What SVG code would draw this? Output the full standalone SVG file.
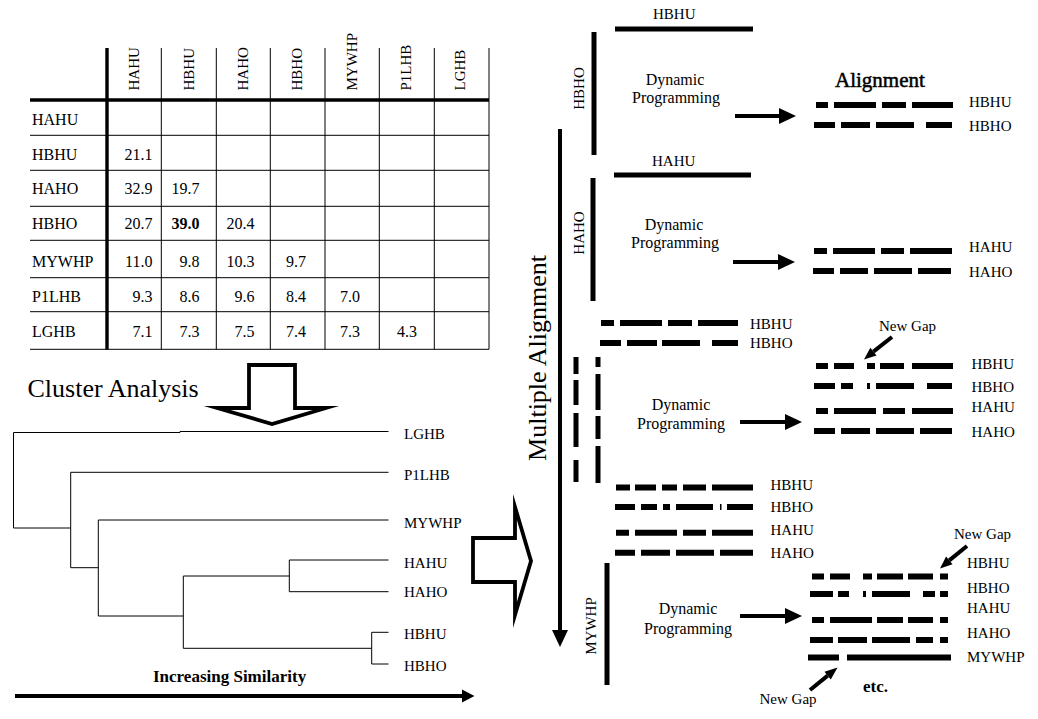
<svg xmlns="http://www.w3.org/2000/svg" width="1038" height="719" viewBox="0 0 1038 719">
<style>
text{font-family:"Liberation Serif","Times New Roman",serif;fill:#000}
.f15{font-size:15px}
.f16{font-size:16px}
.f14{font-size:15px}
.big{font-size:26px}
.b{font-weight:bold}
.mid{text-anchor:middle}
.end{text-anchor:end}
.thin{stroke:#000;stroke-width:1;fill:none}
.thick{stroke:#000;stroke-width:3.4;fill:none}
.bar{stroke:#000;stroke-width:6;fill:none}
.bar5{stroke:#000;stroke-width:5;fill:none}
.ln{stroke:#000;stroke-width:4;fill:none}
.hd{fill:#000;stroke:none}
.hollow{fill:#fff;stroke:#000;stroke-width:3.8;stroke-linejoin:miter;stroke-miterlimit:10}
</style>
<rect width="1038" height="719" fill="#fff"/>

<g id="table">
  <path class="thin" d="M161.3 48V349.3M216.3 48V349.3M270.3 48V349.3M325 48V349.3M379.3 48V349.3M434.3 48V349.3M489 48V349.3"/>
  <path class="thin" d="M30 135.3H489M30 170.3H489M30 206.3H489M30 240.3H489M30 277.7H489M30 311.7H489M30 349.3H489"/>
  <path class="thick" d="M107 48V349.5M30 100H489"/>
  <g class="f15">
    <text transform="translate(138.5,90.5) rotate(-90)">HAHU</text>
    <text transform="translate(193.5,90.5) rotate(-90)">HBHU</text>
    <text transform="translate(247.5,90.5) rotate(-90)">HAHO</text>
    <text transform="translate(302,90.5) rotate(-90)">HBHO</text>
    <text transform="translate(356.5,90.5) rotate(-90)">MYWHP</text>
    <text transform="translate(411,90.5) rotate(-90)">P1LHB</text>
    <text transform="translate(465,90.5) rotate(-90)">LGHB</text>
  </g>
  <g class="f16">
    <text x="32" y="125">HAHU</text>
    <text x="32" y="160">HBHU</text>
    <text x="32" y="194">HAHO</text>
    <text x="32" y="229">HBHO</text>
    <text x="32" y="267">MYWHP</text>
    <text x="32" y="302">P1LHB</text>
    <text x="32" y="337">LGHB</text>
  </g>
  <g class="f16 end">
    <text x="152.5" y="160">21.1</text>
    <text x="152.5" y="194">32.9</text>
    <text x="199.5" y="194">19.7</text>
    <text x="152.5" y="229">20.7</text>
    <text x="199.5" y="229" class="b">39.0</text>
    <text x="254.5" y="229">20.4</text>
    <text x="152.5" y="267">11.0</text>
    <text x="199.5" y="267">9.8</text>
    <text x="254.5" y="267">10.3</text>
    <text x="306" y="267">9.7</text>
    <text x="152.5" y="302">9.3</text>
    <text x="199.5" y="302">8.6</text>
    <text x="254.5" y="302">9.6</text>
    <text x="306" y="302">8.4</text>
    <text x="360" y="302">7.0</text>
    <text x="152.5" y="337">7.1</text>
    <text x="199.5" y="337">7.3</text>
    <text x="254.5" y="337">7.5</text>
    <text x="306" y="337">7.4</text>
    <text x="360" y="337">7.3</text>
    <text x="417" y="337">4.3</text>
  </g>
</g>

<g id="cluster-analysis">
  <text x="27.5" y="397" class="big">Cluster Analysis</text>
  <polygon class="hollow" points="249,365 295,365 295,408 326,408 272,424 217,408 249,408"/>
</g>

<g id="dendrogram">
  <path class="thin" d="M13.5 528V432.5H180V431.5H388.5"/>
  <path class="thin" d="M13.5 528H70.7M70.7 472.3V567.7M70.7 472.3H388.5M70.7 567.7H98.3M98.3 520V616M98.3 520H388.5M98.3 616H183.3M183.3 576V648.3M183.3 576H289.3M289.3 560V591.7M289.3 560H388.5M289.3 591.7H388.5M183.3 648.3H371.7M371.7 632.3V664M371.7 632.3H388.5M371.7 664H388.5"/>
  <g class="f15">
    <text x="404" y="438.5">LGHB</text>
    <text x="404" y="479.5">P1LHB</text>
    <text x="404" y="527.5">MYWHP</text>
    <text x="404" y="567.5">HAHU</text>
    <text x="404" y="597">HAHO</text>
    <text x="404" y="638.5">HBHU</text>
    <text x="404" y="671">HBHO</text>
  </g>
  <text x="153" y="682" class="b" font-size="17">Increasing Similarity</text>
  <path class="ln" d="M15 696H463"/>
  <polygon class="hd" points="462,689.5 474.5,696 462,702.5"/>
</g>

<g id="to-alignment-arrow">
  <polygon class="hollow" points="473,538 515,538 515,507 531,561 515,615 515,582 473,582"/>
</g>

<g id="multiple-alignment">
  <text class="big mid" transform="translate(546,358) rotate(-90)">Multiple Alignment</text>
  <path class="ln" d="M560 129V631"/>
  <polygon class="hd" points="552,630 568,630 560,647"/>
</g>

<g id="step1">
  <text x="653" y="19" class="f15">HBHU</text>
  <path class="bar5" d="M615 29H753"/>
  <path class="bar5" d="M594 32V155"/>
  <text class="f15 mid" transform="translate(584,88.5) rotate(-90)">HBHO</text>
  <text x="675" y="85" class="f16 mid">Dynamic</text>
  <text x="676" y="103" class="f16 mid">Programming</text>
  <path class="ln" d="M735 116H781"/>
  <polygon class="hd" points="779,108 796,116 779,124"/>
  <text x="835" y="87" font-size="21" stroke="#000" stroke-width="0.5">Alignment</text>
  <path class="bar" d="M816 105H828M834 105H876M882 105H906M912 105H953"/>
  <path class="bar" d="M814 125H835M841 125H870M876 125H914M926 125H952"/>
  <text x="969" y="107" class="f15">HBHU</text>
  <text x="969" y="131" class="f15">HBHO</text>
</g>

<g id="step2">
  <text x="652" y="166" class="f15">HAHU</text>
  <path class="bar5" d="M614 175H751"/>
  <path class="bar5" d="M593 178V301"/>
  <text class="f15 mid" transform="translate(583.5,233) rotate(-90)">HAHO</text>
  <text x="674" y="230" class="f16 mid">Dynamic</text>
  <text x="675" y="248" class="f16 mid">Programming</text>
  <path class="ln" d="M733 262H780"/>
  <polygon class="hd" points="778,254 795,262 778,270"/>
  <path class="bar" d="M814 251H827M833 251H875M881 251H904M910 251H952"/>
  <path class="bar" d="M813 271H834M840 271H868M874 271H912M918 271H951"/>
  <text x="969" y="252" class="f15">HAHU</text>
  <text x="969" y="277" class="f15">HAHO</text>
</g>

<g id="step3">
  <path class="bar" d="M601 323H614M620 323H662M668 323H692M698 323H738"/>
  <path class="bar" d="M600 343H621M627 343H657M662 343H700M712 343H738"/>
  <text x="750" y="328.5" class="f15">HBHU</text>
  <text x="750" y="347.5" class="f15">HBHO</text>
  <path class="bar5" d="M576 357V374M576 380V405M576 413V447M576 460V482"/>
  <path class="bar5" d="M598 357V367M598 374V410M598 416V439M598 446V483"/>
  <text x="681" y="410" class="f16 mid">Dynamic</text>
  <text x="681" y="429" class="f16 mid">Programming</text>
  <path class="ln" d="M740 422H787"/>
  <polygon class="hd" points="785,414 802,422 785,430"/>
  <text x="879" y="331" class="f14">New Gap</text>
  <path class="ln" d="M892 337L873.4 351.6"/>
  <polygon class="hd" points="870.3,347.7 864,359.5 876.5,355.5"/>
  <path class="bar" d="M816 366H828M834 366H854M867 366H875M880 366H904M912 366H953"/>
  <path class="bar" d="M814 386H835M841 386H853M867 386H870M876 386H914M927 386H952"/>
  <path class="bar" d="M816 411H828M834 411H876M883 411H905M912 411H953"/>
  <path class="bar" d="M814 431H835M841 431H870M876 431H914M920 431H952"/>
  <text x="971.5" y="368.5" class="f15">HBHU</text>
  <text x="971.5" y="391.5" class="f15">HBHO</text>
  <text x="971.5" y="412" class="f15">HAHU</text>
  <text x="971.5" y="437" class="f15">HAHO</text>
</g>

<g id="step4">
  <path class="bar" d="M616 487.5H630M635 487.5H656M662 487.5H677M683 487.5H706M712 487.5H753"/>
  <path class="bar" d="M615 507H635M641 507H657M663 507H670M676 507H713M720 507H721.5M727 507H753"/>
  <path class="bar" d="M616 532.7H629M635 532.7H677M683 532.7H706M712 532.7H753"/>
  <path class="bar" d="M615 552.7H635M641 552.7H670M676 552.7H714M720 552.7H753"/>
  <text x="770.5" y="490" class="f15">HBHU</text>
  <text x="770.5" y="512" class="f15">HBHO</text>
  <text x="770.5" y="535" class="f15">HAHU</text>
  <text x="770.5" y="557.5" class="f15">HAHO</text>
  <path class="bar5" d="M607 563V685"/>
  <text class="f15 mid" transform="translate(595.5,626) rotate(-90)">MYWHP</text>
  <text x="688" y="613.5" class="f16 mid">Dynamic</text>
  <text x="688" y="633.5" class="f16 mid">Programming</text>
  <path class="ln" d="M740 616H787"/>
  <polygon class="hd" points="785,608 802,616 785,624"/>
  <text x="954" y="538.5" class="f14">New Gap</text>
  <path class="ln" d="M967 546L949.3 560.4"/>
  <polygon class="hd" points="946.1,556.5 940,568.5 952.5,564.3"/>
  <path class="bar" d="M812 576.5H824M830 576.5H850M863 576.5H872M877 576.5H903M908 576.5H933M940 576.5H948"/>
  <path class="bar" d="M810 594H833M838 594H849M863 594H866M872 594H910M923 594H935M940 594H948"/>
  <path class="bar" d="M812 620H824M830 620H872M877 620H903M908 620H933M940 620H948"/>
  <path class="bar" d="M810 640H833M838 640H867M872 640H910M916 640H933M940 640H948"/>
  <path class="bar" d="M808 657.5H839M847 657.5H951"/>
  <text x="967" y="568" class="f15">HBHU</text>
  <text x="967" y="593" class="f15">HBHO</text>
  <text x="967" y="613" class="f15">HAHU</text>
  <text x="967" y="637.5" class="f15">HAHO</text>
  <text x="967" y="662" class="f15">MYWHP</text>
  <path class="ln" d="M810 690L827.7 675.6"/>
  <polygon class="hd" points="830.8,679.5 837.5,667.5 824.5,671.7"/>
  <text x="759.5" y="704" class="f14">New Gap</text>
  <text x="863" y="692" class="b" font-size="17">etc.</text>
</g>
</svg>
